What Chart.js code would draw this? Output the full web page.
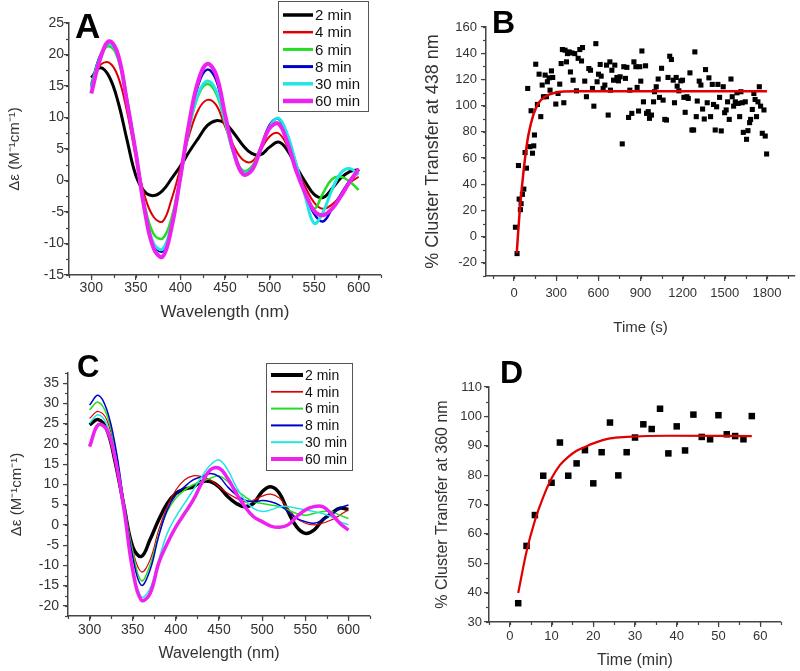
<!DOCTYPE html>
<html>
<head>
<meta charset="utf-8">
<script src="https://cdn.jsdelivr.net/npm/chart.js@4.4.1/dist/chart.umd.min.js"></script>
<style>
  body { margin: 0; background: #fff; }
  #wrap { position: relative; width: 800px; height: 671px; }
  canvas { position: absolute; }
</style>
</head>
<body>
<div id="wrap">
  <canvas id="chartA" width="400" height="335" style="left:0;top:0"></canvas>
  <canvas id="chartB" width="400" height="335" style="left:400px;top:0"></canvas>
  <canvas id="chartC" width="400" height="336" style="left:0;top:335px"></canvas>
  <canvas id="chartD" width="400" height="336" style="left:400px;top:335px"></canvas>
</div>
<script>
// spektren: wellenlaenge 300..600 nm in 10er schritten
const wavelength = [300,310,320,330,340,350,360,370,380,390,400,410,420,430,440,450,460,470,480,490,500,510,520,530,540,550,560,570,580,590,600];
const seriesNames = ['2 min', '4 min', '6 min', '8 min', '30 min', '60 min'];

// panel A
const a2 = [16.3,17.9,16.5,12.5,6.5,0.8,-1.8,-2.4,-1.6,0.3,2.3,4.6,6.7,8.7,9.5,9.1,7.5,5.6,4.3,4.1,5.3,6.1,4.8,2.2,-0.2,-2.2,-2.7,-1.3,0.4,1.4,1.7];
const a4 = [15.5,18.3,18.7,16.5,11,3.8,-2.5,-5.8,-6.5,-3,2,7.3,11.2,12.8,12,8.6,5.4,3.3,3.0,4.9,7,7.5,5.4,2.2,-1,-3.5,-4.5,-3.8,-2.4,-0.4,0.6];
const a6 = [15.2,19.8,21.3,19.3,12.5,4.2,-4,-8.5,-9.2,-6,0.8,8.3,13.5,15.3,13.8,9.2,4.2,1.6,2.2,5.2,8.5,9.1,6.5,2,-2,-4.5,-2,0.2,0.6,-0.2,-1.5];
const a8 = [15,19.8,21.8,19.8,12.8,4.3,-4.6,-10.2,-11.2,-7.2,0.5,9,15.2,17.6,16,10.2,4.5,1.3,1.8,5,8.8,9.8,7,2.5,-2,-5.3,-6.5,-4.5,-2.2,0,1.8];
const a30 = [14.7,19.6,21.7,19.8,12.8,4.3,-4.6,-10,-10.9,-7,0.5,8.5,13.8,15.8,14.3,9.5,4.2,1.3,1.8,5,8.5,9.9,7.3,2.5,-2.5,-6.8,-5,-1.5,1.2,1.9,0.9];
const a60 = [13.8,19.3,22.1,20,12.5,4.3,-4.8,-10.8,-12.1,-7.5,0.6,9.3,15.8,18.5,16.8,10.5,4.5,1.0,1.6,5,8.3,9.0,6,1.5,-2,-4.8,-5.5,-4.5,-2.5,-0.2,1.8];

// panel C
const c2 = [24.7,26,23.5,15.2,4.5,-5.4,-7.8,-3.7,1.2,5.3,7.8,8.8,9.4,10.7,10.7,9.4,7,5.3,4.5,5.3,8.2,9.4,7.8,3.3,-0.5,-2.1,-1.3,1.2,2.8,4.1,3.8];
const c4 = [26.3,28,25.9,17.7,4.9,-6.2,-11.6,-8.7,-1.3,4.5,8.6,11.1,12.1,11.9,11.1,9.4,7.8,6.6,5.7,6.1,7.1,7.6,6.6,4.1,1.6,0.4,0,0.4,1.2,2.4,3.7];
const c6 = [28.4,30.3,27.2,18.5,5.3,-6.6,-13.8,-10,-2.5,3.3,6.6,8.6,9.9,10.7,11.5,12.1,10.7,8.6,7,5.7,5.3,4.9,4.5,3.7,2.8,2.4,2.8,3.3,3.3,2.4,1.6];
const c8 = [29.6,32,28.4,19.3,5.3,-7.9,-14.9,-11.2,-2.9,3.7,7.4,9.4,11.1,11.9,12.7,11.9,9.4,7.4,6.1,5.7,6,5.7,4.9,3.3,1.6,0.8,0.4,1.2,2.4,4.1,4.9];
const c30 = [25.1,27.2,24.7,16.9,3.7,-10.3,-17.8,-15.7,-8.7,-2.1,2,5.3,8.6,11.9,14.8,16,13.6,9.4,6.1,4.1,3.3,3.7,4.5,4.5,4.1,3.7,3.3,2.8,2,0.8,0];
const c60 = [19.3,24.7,23.5,16,3.7,-11.2,-18.6,-17,-9.5,-4.6,-0.5,2.8,6.1,10.3,13.6,14,11.5,7.8,4.5,2,0.8,-0.3,-0.6,0,2,3.7,4.5,4.5,2.8,0.4,-1.3];

// panel B: messpunkte (s, %) und fit
const bTime = [9.5,21,31,36,45,50,59,69,78,88,97,112,121,131,140,145,154,166,178,190,200,209,221,230,237,249,256,266,275,297,313,325,335,344,354,363,373,380,392,401,411,420,432,444,456,468,480,487,503,515,532,544,558,568,582,591,601,613,620,634,646,658,670,682,686,696,708,717,732,743,755,770,781,793,803,815,824,838,853,867,876,886,895,902,910,921,936,943,955,964,978,993,1000,1012,1026,1035,1050,1061,1073,1085,1096,1108,1120,1133,1142,1154,1161,1173,1187,1199,1209,1218,1230,1240,1252,1266,1278,1287,1297,1304,1318,1330,1342,1354,1363,1375,1387,1399,1411,1420,1432,1442,1451,1463,1475,1489,1499,1510,1520,1532,1544,1553,1563,1575,1587,1596,1606,1615,1624,1632,1646,1655,1665,1677,1684,1696,1707,1716,1726,1736,1746,1755,1767,1779,1788,1798];
const bPct = [7.2,-12.9,54.3,28.7,20.6,25.2,32.3,36.3,64.2,52.3,113.1,68.7,96.1,63.7,69.3,77.6,131.6,100.9,124,91.6,115.7,106.8,123.3,106.8,118.2,121.2,111.8,126.5,121.5,101.2,109.3,116.4,132.1,142.8,102.2,142.3,133.4,139.7,141,125.7,140.2,119.4,139.7,111.3,136.1,142.8,134.1,144.3,118.7,106.8,128.3,127,113.1,99.6,147.3,118.2,124,131.4,122.5,113.1,115.7,130.9,92.8,133.4,111.8,127,119.4,130.9,121.5,118.9,122,70.8,129.7,120.8,129.2,91,111.8,94.1,133.4,129.7,113.9,95.9,129.7,118.7,141.7,102.9,130.4,94.1,95.4,90.3,92.8,102.9,110.6,114.4,120.3,106.3,128.5,104.2,89.5,89,121.5,137.7,135.2,119.4,102.2,121.5,114.9,111.3,118.9,119.4,106.3,94.9,106.8,105.5,125,81.4,81.4,141,91.6,103.5,118.7,115.7,97.4,89.8,127.5,102.2,121.2,91.6,116.2,100.9,81.4,99.1,116.2,106.3,80.7,114.4,94.6,96.7,102.9,89.5,120.3,106.8,99.6,102.9,109.8,101.7,91.6,110.6,102.2,79.6,102.9,74.3,80.9,87,89.5,97.1,109.3,104.7,91.6,102.9,114.4,99.6,78.9,96.7,76.8,63.1];
const bFitTime = [19,30,40,55,78,102,137,173,220,292,434,700,1200,1800];
const bFitPct = [-12.6,5,19.5,37,60,77.6,92.9,101.8,106.8,109.9,111,111,111,111];

// panel D: messpunkte (min, %) und fit
const dTime = [2,4,6,8,10,12,14,16,18,20,22,24,26,28,30,32,34,36,38,40,42,44,46,48,50,52,54,56,58];
const dPct = [36.4,55.9,66.4,79.8,77.4,91.1,79.8,84,88.5,77.2,87.8,97.9,79.9,87.8,92.8,97.3,95.7,102.6,87.4,96.6,88.4,100.6,93,92.2,100.4,93.9,93.3,92.2,100.1];
const dFitTime = [2,4,6,8,10,12,14,16,18,20,24,28,38,58];
const dFitPct = [39.9,54,64.5,72.5,78.9,83.4,86.2,88.3,89.6,90.8,92.5,93,93.4,93.3];

// achsen-ticks
const aXTicks = [300,350,400,450,500,550,600];
const aYTicks = [-15,-10,-5,0,5,10,15,20,25];
const bXTicks = [0,300,600,900,1200,1500,1800];
const bYTicks = [-20,0,20,40,60,80,100,120,140,160];
const cXTicks = [300,350,400,450,500,550,600];
const cYTicks = [-20,-15,-10,-5,0,5,10,15,20,25,30,35];
const dXTicks = [0,10,20,30,40,50,60];
const dYTicks = [30,40,50,60,70,80,90,100,110];

const colors = ['#000000', '#dd0000', '#22dd22', '#0000cc', '#22e5e5', '#ee22ee'];
const FONT = "'Liberation Sans', Arial, sans-serif";

function pairs(xs, ys) {
    return xs.map((x, i) => ({ x: x, y: ys[i] }));
}

// kleine zwischenticks, legende und panel-buchstabe
const decor = {
    id: 'decor',
    afterDraw(chart, args, o) {
        const ctx = chart.ctx;
        const area = chart.chartArea;
        ctx.save();
        ctx.strokeStyle = '#444';
        ctx.lineWidth = 1.2;
        const sx = chart.scales.x, sy = chart.scales.y;
        for (let v = Math.ceil(sx.min / o.minorX) * o.minorX; v <= sx.max + 1e-9; v += o.minorX) {
            const px = Math.round(sx.getPixelForValue(v)) + 0.5;
            ctx.beginPath(); ctx.moveTo(px, area.bottom); ctx.lineTo(px, area.bottom + 3); ctx.stroke();
        }
        for (let v = Math.ceil(sy.min / o.minorY) * o.minorY; v <= sy.max + 1e-9; v += o.minorY) {
            const py = Math.round(sy.getPixelForValue(v)) + 0.5;
            ctx.beginPath(); ctx.moveTo(area.left - 3, py); ctx.lineTo(area.left, py); ctx.stroke();
        }

        if (o.legend) {
            const L = o.legend;
            ctx.fillStyle = '#fff';
            ctx.fillRect(L.x, L.y, L.w, L.h);
            ctx.strokeStyle = '#555';
            ctx.lineWidth = 1;
            ctx.strokeRect(L.x + 0.5, L.y + 0.5, L.w, L.h);
            ctx.font = L.size + 'px ' + FONT;
            ctx.textBaseline = 'middle';
            ctx.textAlign = 'left';
            chart.data.datasets.forEach((ds, i) => {
                const yy = L.first + i * L.step;
                ctx.strokeStyle = ds.borderColor;
                ctx.lineWidth = ds.borderWidth + 0.5;
                ctx.beginPath(); ctx.moveTo(L.x1, yy); ctx.lineTo(L.x2, yy); ctx.stroke();
                ctx.fillStyle = '#111';
                ctx.fillText(ds.label, L.tx, yy + 1);
            });
        }

        ctx.fillStyle = '#000';
        ctx.font = 'bold ' + o.labelSize + 'px ' + FONT;
        ctx.textBaseline = 'alphabetic';
        ctx.textAlign = 'left';
        ctx.fillText(o.label, o.labelX, o.labelY);
        ctx.restore();
    }
};

function axis(p, min, max, ticks, tickSize, pad, title, titleSize, titlePad, isX) {
    return {
        type: 'linear',
        min: min,
        max: max,
        afterBuildTicks: s => { s.ticks = ticks.map(v => ({ value: v })); },
        afterFit: s => {
            if (isX) s.height = p.H - p.bottom;
            else s.width = p.left;
        },
        grid: { drawOnChartArea: false, drawTicks: true, tickLength: 5, color: '#444', lineWidth: 1.2 },
        border: { display: true, color: '#444', width: 1.5 },
        ticks: {
            autoSkip: false, maxRotation: 0, padding: pad, color: '#333',
            font: { family: FONT, size: tickSize },
            callback: v => String(v)
        },
        title: {
            display: true, text: title, color: '#333',
            font: { family: FONT, size: titleSize },
            padding: isX ? { top: 0, bottom: titlePad } : { top: titlePad, bottom: 0 }
        }
    };
}

function baseOptions(p, x, y, dec) {
    return {
        responsive: false,
        animation: false,
        devicePixelRatio: 1,
        layout: { padding: { left: 0, top: p.top, right: p.W - p.right, bottom: 0 } },
        plugins: { legend: { display: false }, tooltip: { enabled: false }, decor: dec },
        scales: { x: x, y: y }
    };
}

function spectrumSets(list, widths) {
    return list.map((vals, i) => ({
        label: seriesNames[i],
        data: pairs(wavelength, vals),
        showLine: true,
        borderColor: colors[i],
        backgroundColor: colors[i],
        borderWidth: widths[i],
        pointRadius: 0,
        tension: 0.4,
        order: 5 - i
    }));
}

// panel A
const pA = { W: 400, H: 335, left: 69, top: 23, right: 381, bottom: 275 };
new Chart(document.getElementById('chartA'), {
    type: 'scatter',
    data: { datasets: spectrumSets([a2, a4, a6, a8, a30, a60], [3, 2, 2.5, 2.5, 3, 4]) },
    options: baseOptions(pA,
        axis(pA, 275, 625, aXTicks, 14, 0, 'Wavelength (nm)', 17, 12, true),
        axis(pA, -15, 25, aYTicks, 14, 0, 'Δε (M⁻¹cm⁻¹)', 15, 6, false),
        { minorX: 25, minorY: 2.5, label: 'A', labelX: 75, labelY: 38, labelSize: 35,
          legend: { x: 278, y: 1, w: 90, h: 110, first: 15, step: 17.2, x1: 283, x2: 313, tx: 315, size: 15 } })
    ,
    plugins: [decor]
});

// panel B
const pB = { W: 400, H: 335, left: 86, top: 27, right: 395, bottom: 276 };
new Chart(document.getElementById('chartB'), {
    type: 'scatter',
    data: {
        datasets: [
            { data: pairs(bFitTime, bFitPct), showLine: true, borderColor: '#e00000', borderWidth: 2.5,
              pointRadius: 0, cubicInterpolationMode: 'monotone', order: 0 },
            { data: pairs(bTime, bPct), pointStyle: 'rect', pointRadius: 3.6, pointBorderWidth: 0,
              backgroundColor: '#000', borderColor: '#000', order: 1 }
        ]
    },
    options: baseOptions(pB,
        axis(pB, -200, 2000, bXTicks, 13, 5, 'Time (s)', 15, -2, true),
        axis(pB, -30, 160, bYTicks, 13, 4, '% Cluster Transfer at 438 nm', 18, 22, false),
        { minorX: 150, minorY: 10, label: 'B', labelX: 92, labelY: 33, labelSize: 32 }),
    plugins: [decor]
});

// panel C
const pC = { W: 400, H: 336, left: 68, top: 38, right: 370, bottom: 281 };
new Chart(document.getElementById('chartC'), {
    type: 'scatter',
    data: { datasets: spectrumSets([c2, c4, c6, c8, c30, c60], [3.5, 1.2, 1.5, 1.5, 1.5, 3.5]) },
    options: baseOptions(pC,
        axis(pC, 275, 625, cXTicks, 14, 1, 'Wavelength (nm)', 16, 8, true),
        axis(pC, -22.5, 37.5, cYTicks, 14, 4, 'Δε (M⁻¹cm⁻¹)', 15, 8, false),
        { minorX: 25, minorY: 2.5, label: 'C', labelX: 77, labelY: 42, labelSize: 31,
          legend: { x: 266, y: 28, w: 86, h: 107, first: 40, step: 16.8, x1: 271, x2: 303, tx: 305, size: 14 } }),
    plugins: [decor]
});

// panel D
const pD = { W: 400, H: 336, left: 89, top: 52, right: 381, bottom: 287 };
new Chart(document.getElementById('chartD'), {
    type: 'scatter',
    data: {
        datasets: [
            { data: pairs(dFitTime, dFitPct), showLine: true, borderColor: '#e00000', borderWidth: 2.2,
              pointRadius: 0, cubicInterpolationMode: 'monotone', order: 0 },
            { data: pairs(dTime, dPct), pointStyle: 'rect', pointRadius: 4.6, pointBorderWidth: 0,
              backgroundColor: '#000', borderColor: '#000', order: 1 }
        ]
    },
    options: baseOptions(pD,
        axis(pD, -5, 65, dXTicks, 13, 2, 'Time (min)', 16, 1, true),
        axis(pD, 30, 110, dYTicks, 13, 2, '% Cluster Transfer at 360 nm', 16, 33, false),
        { minorX: 5, minorY: 5, label: 'D', labelX: 100, labelY: 48, labelSize: 32 }),
    plugins: [decor]
});
</script>
</body>
</html>
